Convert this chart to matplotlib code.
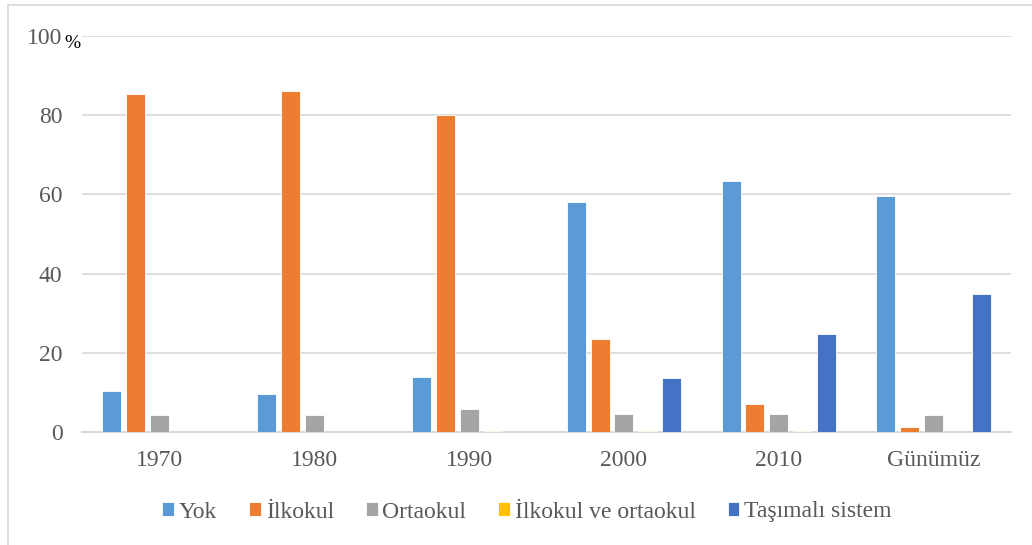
import matplotlib.pyplot as plt
from matplotlib.lines import Line2D
import numpy as np

plt.rcParams['font.family'] = ['Liberation Serif', 'DejaVu Serif']

# Data
years = ['1970', '1980', '1990', '2000', '2010', 'Günümüz']
series = ['Yok', 'İlkokul', 'Ortaokul', 'İlkokul ve ortaokul', 'Taşımalı sistem']
yok = [10.4, 9.7, 13.9, 58.0, 63.3, 59.7]
ilkokul = [85.3, 86.0, 80.0, 23.5, 7.1, 1.2]
ortaokul = [4.3, 4.3, 5.8, 4.5, 4.5, 4.3]
ilk_orta = [0, 0, 0.3, 0.3, 0.3, 0]
tasimali = [0, 0, 0, 13.6, 24.7, 34.8]
values = [yok, ilkokul, ortaokul, ilk_orta, tasimali]
colors = ['#5B9BD5', '#ED7D31', '#A5A5A5', '#FFC000', '#4472C4']

x = np.arange(len(years))
pitch = 0.1537
width = 0.1227

fig = plt.figure(figsize=(10.32, 5.45), dpi=100)
ax = fig.add_axes([82 / 1032, 1 - 432 / 545, (1011 - 82) / 1032, (432 - 36) / 545])

for i, (vals, c, name) in enumerate(zip(values, colors, series)):
    ax.bar(x + (i - 2) * pitch, vals, width, color=c, label=name,
           edgecolor='white', linewidth=0.6, zorder=3)

ax.set_xlim(-0.5, len(years) - 0.5)
ax.set_ylim(0, 100)
ax.set_yticks([0, 20, 40, 60, 80, 100])
ax.set_xticks(x)
ax.set_xticklabels(years)
ax.grid(axis='y', color='#D9D9D9', linewidth=1.2, zorder=0)
ax.tick_params(axis='both', length=0, labelsize=17, colors='#595959')
ax.tick_params(axis='y', pad=14)
ax.tick_params(axis='x', pad=13)
for s in ['top', 'right', 'left']:
    ax.spines[s].set_visible(False)
ax.spines['bottom'].set_color('#D9D9D9')
ax.spines['bottom'].set_linewidth(1.5)

fig.text(64 / 1032, 1 - 43 / 545, '%', fontsize=14, color='black', ha='left', va='center')

ax.legend(loc='center', bbox_to_anchor=(527 / 1032, 1 - 512 / 545),
          bbox_transform=fig.transFigure, ncol=5, frameon=False,
          fontsize=17, labelcolor='#595959', handlelength=0.5, handleheight=0.5,
          handletextpad=0.2, columnspacing=1.35)

# chart border
fig.add_artist(Line2D([8 / 1032, 8 / 1032], [0, 1 - 5 / 545], color='#D9D9D9', linewidth=1.2))
fig.add_artist(Line2D([8 / 1032, 1], [1 - 5 / 545, 1 - 5 / 545], color='#D9D9D9', linewidth=1.2))

fig.savefig('out.png', dpi=100)
